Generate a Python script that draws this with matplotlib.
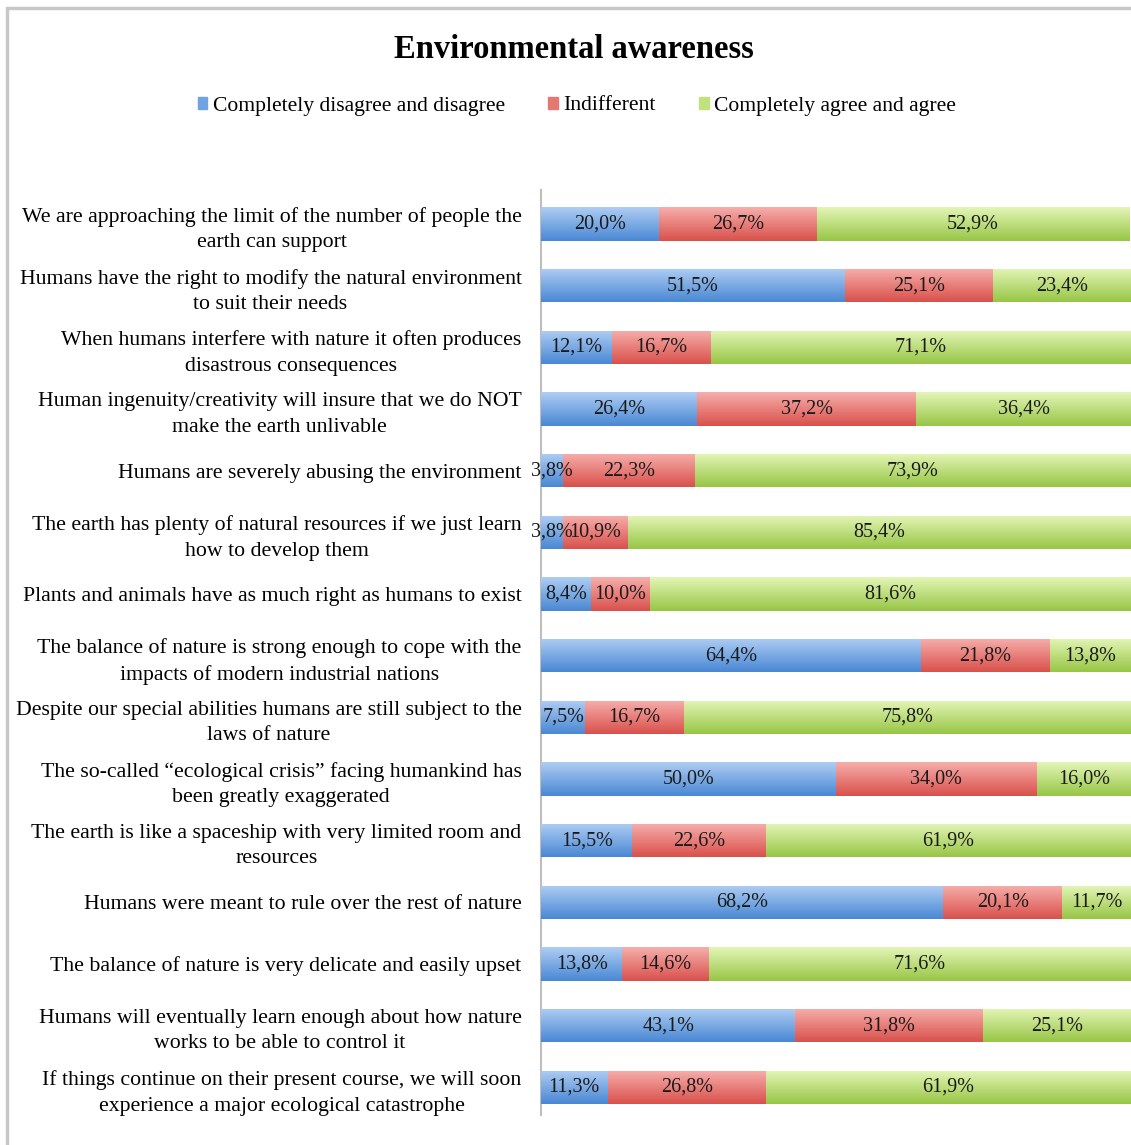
import numpy as np
import matplotlib
matplotlib.use("Agg")
import matplotlib.pyplot as plt
from matplotlib.colors import LinearSegmentedColormap
from matplotlib.patches import Rectangle

plt.rcParams['font.family'] = ['Liberation Serif', 'DejaVu Serif']

statements = [
    "We are approaching the limit of the number of people the\nearth can support",
    "Humans have the right to modify the natural environment\nto suit their needs",
    "When humans interfere with nature it often produces\ndisastrous consequences",
    "Human ingenuity/creativity will insure that we do NOT\nmake the earth unlivable",
    "Humans are severely abusing the environment",
    "The earth has plenty of natural resources if we just learn\nhow to develop them",
    "Plants and animals have as much right as humans to exist",
    "The balance of nature is strong enough to cope with the\nimpacts of modern industrial nations",
    "Despite our special abilities humans are still subject to the\nlaws of nature",
    "The so-called \u201cecological crisis\u201d facing humankind has\nbeen greatly exaggerated",
    "The earth is like a spaceship with very limited room and\nresources",
    "Humans were meant to rule over the rest of nature",
    "The balance of nature is very delicate and easily upset",
    "Humans will eventually learn enough about how nature\nworks to be able to control it",
    "If things continue on their present course, we will soon\nexperience a major ecological catastrophe",
]

disagree = [20.0, 51.5, 12.1, 26.4, 3.8, 3.8, 8.4, 64.4, 7.5, 50.0, 15.5, 68.2, 13.8, 43.1, 11.3]
indifferent = [26.7, 25.1, 16.7, 37.2, 22.3, 10.9, 10.0, 21.8, 16.7, 34.0, 22.6, 20.1, 14.6, 31.8, 26.8]
agree = [52.9, 23.4, 71.1, 36.4, 73.9, 85.4, 81.6, 13.8, 75.8, 16.0, 61.9, 11.7, 71.6, 25.1, 61.9]

series_names = ["Completely disagree and disagree", "Indifferent", "Completely agree and agree"]
# (top colour, bottom colour) for the shaded bars
shades = [("#aecdf3", "#4a88d4"), ("#f6aeab", "#d9514c"), ("#e3f5b6", "#98c646")]
key_colors = ["#6fa3e3", "#e67874", "#bfe27e"]

fig = plt.figure(figsize=(11.31, 11.45), dpi=100)
ax = fig.add_axes([541 / 1131, 1 - 1115 / 1145, 1 - 541 / 1131, (1115 - 190) / 1145])

y = np.arange(len(statements))
left = np.zeros(len(statements))
for vals, name, (top, bottom) in zip([disagree, indifferent, agree], series_names, shades):
    bars = ax.barh(y, vals, left=left, height=0.54, color=bottom, label=name, zorder=2)
    cmap = LinearSegmentedColormap.from_list(name, [top, bottom])
    grad = np.linspace(0, 1, 64).reshape(-1, 1)
    for b in bars:
        x0, y0 = b.get_x(), b.get_y()
        im = ax.imshow(grad, cmap=cmap, aspect='auto', zorder=3,
                       extent=[x0, x0 + b.get_width(), y0 + b.get_height(), y0],
                       origin='upper')
        im.set_clip_path(b)
    labels = [f"{v:.1f}%".replace('.', ',') for v in vals]
    ax.bar_label(bars, labels=labels, label_type='center', fontsize=14.5,
                 color='#1a1a1a', zorder=5)
    left += np.array(vals)

ax.set_xlim(0, 100)
ax.set_ylim(len(statements) - 0.55, -0.55)
ax.set_yticks(y)
ax.set_yticklabels(statements, fontsize=15.7, multialignment='center', linespacing=1.45)
ax.tick_params(axis='y', length=0, pad=14)
ax.set_xticks([])
for side in ['top', 'right', 'bottom']:
    ax.spines[side].set_visible(False)
ax.spines['left'].set_color('#bdbdbd')
ax.spines['left'].set_linewidth(1.5)

fig.text(0.507, 1 - 49 / 1145, "Environmental awareness", ha='center', va='center',
         fontsize=23.5, fontweight='bold')

handles = [Rectangle((0, 0), 1, 1, color=c) for c in key_colors]
fig.legend(handles, series_names, loc='center', bbox_to_anchor=(0.51, 1 - 106 / 1145),
           ncol=3, frameon=False, fontsize=15.6, handlelength=0.45, handleheight=0.45,
           handletextpad=0.25, columnspacing=2.0)

# light grey outer frame
fig.patches.append(Rectangle((7 / 1131, -0.05), 1.1, 1 - 8 / 1145 + 0.05,
                             transform=fig.transFigure, fill=False,
                             edgecolor='#c8c8c8', linewidth=2.5))

fig.savefig("out.png", dpi=100)
